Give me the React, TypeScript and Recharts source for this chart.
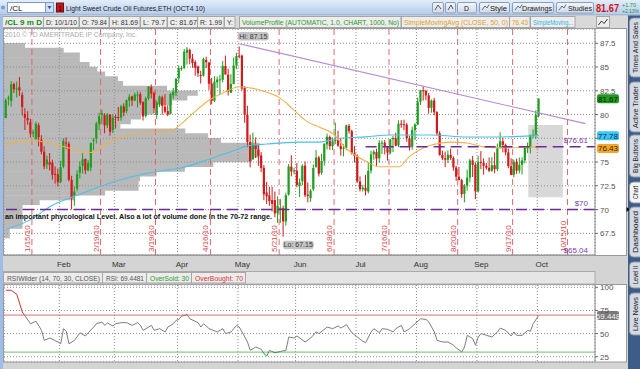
import React from "react";
import {
  ComposedChart,
  Bar,
  Line,
  XAxis,
  YAxis,
  CartesianGrid,
  ReferenceLine,
  ReferenceArea,
  ReferenceDot,
} from "recharts";

const FONT = "'Liberation Sans', Arial, Helvetica, sans-serif";

// ---------------- DATA (daily OHLC, one row per weekday from 1/4/10) ----------------
const jan = [
  [79.63, 81.68, 79.63, 81.51], [81.77, 82.0, 80.95, 81.77], [81.43, 83.52, 80.85, 83.18], [83.2, 83.36, 82.26, 82.66], [82.65, 83.47, 81.8, 82.75],
  [82.88, 83.95, 81.96, 82.52], [82.07, 82.34, 79.91, 80.79], [80.06, 80.67, 78.37, 79.65], [79.63, 80.36, 78.92, 79.39], [79.2, 79.56, 77.58, 78.0],
  [78.0, 78.4, 77.6, 78.2], [77.45, 79.25, 77.33, 79.02], [78.88, 79.13, 76.65, 77.62], [77.35, 77.82, 75.82, 76.08], [76.08, 76.67, 74.25, 74.54],
  [74.75, 75.67, 74.28, 75.26], [75.02, 75.95, 74.12, 74.71], [74.95, 75.25, 73.15, 73.67], [73.75, 74.54, 72.73, 73.64], [73.72, 74.32, 72.43, 72.89],
];
const feb = [
  [72.89, 75.13, 72.78, 74.43], [74.53, 77.51, 74.35, 77.23], [77.05, 77.59, 76.36, 76.98], [76.93, 77.15, 72.98, 73.14], [73.12, 73.55, 70.0, 71.19],
  [71.46, 72.43, 70.4, 71.89], [72.2, 74.13, 71.92, 73.75], [73.86, 75.08, 73.26, 74.52], [74.61, 75.95, 73.78, 75.28], [75.35, 75.35, 73.73, 74.13],
  [74.13, 75.2, 74.0, 74.9], [74.43, 77.05, 74.03, 77.01], [77.22, 77.55, 76.27, 77.33], [77.49, 79.24, 76.95, 79.06], [79.02, 80.18, 78.36, 79.81],
  [79.97, 80.51, 79.02, 80.16], [79.94, 80.14, 78.02, 78.86], [78.86, 80.15, 78.58, 80.0], [80.0, 80.02, 77.78, 78.17], [78.37, 80.03, 78.04, 79.66],
];
const mar = [
  [79.74, 80.0, 78.54, 79.7], [79.73, 80.79, 79.33, 79.68], [79.68, 81.02, 79.35, 80.87], [80.85, 81.18, 79.82, 80.21], [80.36, 81.59, 80.14, 81.5],
  [81.46, 82.14, 80.81, 81.87], [81.91, 82.0, 80.9, 81.49], [81.47, 82.31, 81.42, 82.09], [82.0, 82.43, 80.75, 82.11], [82.14, 82.39, 81.03, 81.24],
  [81.3, 81.39, 79.37, 79.8], [79.85, 81.88, 79.69, 81.7], [81.7, 83.0, 81.5, 82.93], [82.88, 83.16, 81.7, 82.2], [82.26, 82.43, 80.16, 80.68],
  [79.96, 81.47, 79.53, 81.25], [81.11, 82.0, 80.79, 81.91], [81.8, 82.0, 80.0, 80.91], [80.82, 82.15, 80.1, 80.3], [80.36, 80.98, 79.81, 80.0],
  [80.07, 82.23, 80.02, 82.17], [82.04, 82.8, 81.66, 82.37], [82.35, 83.85, 81.95, 83.76],
];
const apr = [
  [83.82, 85.14, 83.29, 84.87], [84.87, 85.1, 84.6, 84.9],
  [84.9, 86.9, 84.77, 86.62], [86.5, 87.09, 85.25, 86.84], [86.8, 86.93, 85.28, 85.88], [85.89, 86.37, 84.92, 85.42], [85.53, 85.71, 84.08, 84.92],
  [85.04, 85.17, 83.96, 84.34], [84.16, 84.61, 83.26, 84.05], [84.1, 86.0, 84.0, 85.84], [85.74, 86.08, 84.89, 85.51], [85.47, 85.5, 82.61, 83.24],
  [83.24, 83.87, 81.07, 81.45], [81.45, 84.04, 81.3, 83.45], [83.4, 84.0, 82.8, 83.68], [83.7, 84.18, 82.09, 83.7], [83.65, 85.64, 83.38, 85.12],
  [85.12, 86.2, 84.5, 84.2], [84.2, 84.82, 82.0, 82.44], [82.3, 84.24, 82.25, 83.22], [83.22, 86.0, 83.18, 85.17], [85.18, 86.5, 84.78, 86.15],
];
const may = [
  [86.2, 87.15, 85.9, 86.19], [86.2, 86.3, 82.53, 82.74], [82.8, 82.98, 79.13, 79.97], [80.0, 80.92, 76.56, 77.11], [77.11, 77.88, 74.44, 75.11],
  [75.3, 78.1, 75.21, 76.8], [76.8, 77.58, 75.42, 76.37], [76.3, 76.9, 74.6, 75.65], [75.7, 76.05, 73.95, 74.38], [74.4, 74.69, 70.98, 71.61],
  [71.8, 72.9, 70.6, 71.4], [71.5, 72.4, 70.4, 70.9], [71.0, 72.4, 69.8, 70.6], [71.0, 71.9, 69.2, 69.6], [69.6, 71.4, 68.6, 70.4],
  [70.04, 71.1, 68.6, 70.21], [70.15, 70.4, 67.15, 68.75], [68.75, 71.78, 68.32, 71.51], [71.58, 74.8, 71.46, 74.55], [74.52, 75.72, 73.5, 74.0],
  [74.0, 74.4, 73.7, 74.1],
];
const jun = [
  [74.1, 74.89, 72.35, 72.58], [72.5, 73.28, 71.32, 72.86], [72.98, 74.76, 72.56, 74.61], [74.62, 75.06, 71.33, 71.51],
  [71.56, 72.85, 70.76, 71.44], [71.2, 72.16, 70.81, 71.99], [72.13, 74.75, 71.94, 74.38], [74.5, 76.26, 74.39, 75.48], [75.48, 75.66, 73.48, 73.78],
  [73.88, 75.85, 73.66, 75.12], [75.12, 76.96, 74.63, 76.94], [76.86, 77.99, 76.33, 77.67], [77.65, 77.79, 76.28, 76.67], [76.67, 77.6, 76.26, 77.18],
  [77.2, 79.14, 76.89, 77.31], [77.3, 78.3, 76.6, 76.73], [76.7, 77.46, 75.66, 76.35], [76.4, 76.87, 75.6, 76.51], [76.5, 78.94, 76.25, 78.86],
  [78.8, 79.0, 78.0, 78.26], [78.25, 78.42, 75.78, 75.94], [75.94, 76.67, 74.95, 75.63],
];
const jul = [
  [75.6, 75.82, 72.83, 72.95], [72.95, 73.5, 71.9, 72.14],
  [72.14, 72.6, 71.9, 72.3], [72.3, 73.65, 71.5, 71.98], [71.9, 75.0, 71.7, 74.07], [74.1, 76.2, 73.8, 75.81], [75.81, 76.28, 75.24, 76.09],
  [76.05, 76.4, 74.6, 75.36], [75.4, 77.3, 74.93, 77.01], [77.0, 77.28, 75.85, 77.04], [77.04, 77.31, 75.8, 76.62], [76.6, 76.7, 75.15, 76.01],
  [75.98, 77.4, 75.82, 77.38], [77.4, 77.73, 76.05, 77.54], [77.5, 78.09, 76.66, 76.72], [76.75, 79.4, 76.58, 79.04], [79.04, 79.42, 78.6, 78.98],
  [78.98, 79.45, 78.35, 78.94], [78.94, 79.1, 77.13, 77.5], [77.5, 77.76, 76.21, 76.61], [76.61, 78.73, 76.3, 78.36], [78.36, 79.09, 77.31, 78.95],
];
const aug = [
  [78.95, 81.77, 78.88, 81.34], [81.34, 82.6, 81.0, 82.55], [82.55, 82.97, 81.46, 82.49], [82.49, 82.6, 81.51, 82.01], [82.01, 82.27, 80.1, 80.7],
  [80.7, 81.58, 80.19, 81.48], [81.48, 81.75, 79.91, 80.25], [80.25, 80.36, 77.8, 78.02], [78.02, 78.25, 75.66, 75.74], [75.74, 76.2, 75.2, 75.39],
  [75.39, 76.09, 74.47, 75.24], [75.24, 76.24, 74.89, 75.77], [75.77, 76.41, 75.2, 75.42], [75.42, 75.59, 74.09, 74.43], [74.43, 74.6, 73.03, 73.46],
  [73.46, 74.49, 73.09, 73.1], [73.1, 73.23, 71.25, 71.63], [71.63, 72.68, 70.76, 72.52], [72.52, 74.2, 72.0, 73.36], [73.36, 75.34, 72.87, 75.17],
  [75.17, 75.65, 73.42, 74.7], [74.7, 74.95, 71.1, 71.92],
];
const sep = [
  [71.92, 75.65, 71.79, 75.02], [75.02, 76.15, 74.26, 74.91], [74.91, 75.39, 73.68, 74.6],
  [74.6, 74.9, 74.2, 74.4], [74.4, 75.49, 73.93, 74.09], [74.09, 75.5, 73.95, 74.67], [74.67, 76.0, 73.81, 74.25], [74.25, 76.95, 74.05, 76.45],
  [76.45, 78.13, 76.45, 77.19], [77.19, 77.56, 76.01, 76.8], [76.8, 76.94, 75.7, 76.02], [76.02, 76.42, 74.35, 74.57], [74.57, 75.41, 73.61, 73.66],
  [73.66, 75.25, 73.38, 75.02], [75.02, 75.36, 73.76, 74.1], [74.1, 75.48, 73.8, 74.71], [74.71, 75.49, 73.7, 75.18], [75.18, 76.65, 74.87, 76.49],
  [76.49, 77.05, 75.95, 76.53], [76.53, 77.88, 75.91, 77.86], [77.86, 78.45, 77.5, 77.86], [77.86, 80.45, 77.46, 79.97],
];
const oct = [[79.84, 81.69, 79.7, 81.67]];

// moving averages & RSI, read at sampled sessions: [weekday index, value]
const sma50Points = [
  [0, 76.8], [5, 77.25], [10, 77.3], [16, 76.97], [22, 76.55], [27, 76.2], [31, 76.0], [34, 76.45], [39, 77.3], [46, 77.9],
  [54, 78.16], [60, 78.2], [63, 78.8], [68, 80.1], [74, 81.5], [80, 82.4], [85, 82.93], [90, 82.75], [95, 82.35], [100, 81.7],
  [104, 80.7], [107, 79.9], [110, 79.2], [114, 78.7], [119, 78.0], [124, 76.4], [131, 75.1], [136, 74.5], [143, 74.5], [147, 75.6],
  [155, 76.8], [162, 77.1], [168, 77.0], [174, 76.6], [180, 76.5], [186, 76.5], [192, 76.6], [194, 76.43],
];
const sma200Points = [
  [0, 67.9], [10, 69.1], [16, 70.3], [26, 71.5], [38, 72.8], [52, 73.85], [60, 74.2], [64, 74.4], [74, 75.3], [83, 76.2],
  [88, 76.7], [95, 76.9], [107, 77.1], [114, 77.1], [122, 77.5], [131, 77.65], [140, 77.85], [155, 77.85], [168, 77.64], [180, 77.64],
  [192, 77.75], [194, 77.78],
];
const rsiPoints = [
  [0, 96.8], [2, 96.8], [4, 92.4], [6, 73.3], [9, 60.7], [11, 63.3], [13, 53.5], [14, 42.7], [16, 45.2], [19, 40.9],
  [20, 39], [21, 55.3], [22, 52.5], [23, 39], [25, 42.7], [27, 50.9], [29, 47.4], [30, 50.9], [32, 57.1], [33, 60.7],
  [35, 62.5], [36, 58.9], [37, 61.4], [39, 58.2], [40, 60.7], [42, 61.8], [44, 61.8], [46, 58.9], [48, 61.8], [49, 58.9],
  [50, 53.5], [52, 57.1], [53, 58.9], [54, 53.5], [56, 55.3], [58, 51.8], [59, 57.1], [61, 60.7], [62, 64.3], [63, 65.3],
  [64, 68.9], [66, 70.3], [67, 66], [70, 61.8], [71, 57.1], [72, 60.7], [74, 55.3], [77, 51.8], [79, 55.3], [80, 50],
  [82, 51.8], [84, 58.9], [85, 57.1], [88, 40.9], [89, 31.9], [91, 35.5], [93, 33], [94, 28.3], [95, 25.8], [96, 31.9],
  [98, 29.3], [100, 30.7], [102, 31.9], [103, 46.3], [105, 45.2], [106, 47.4], [109, 40.9], [111, 45.2], [113, 51.8], [114, 50],
  [117, 57.1], [119, 55.3], [121, 58.2], [122, 56], [124, 59.6], [126, 50.9], [128, 46.3], [130, 41.6], [131, 40.2], [133, 51.8],
  [134, 55.3], [136, 50.9], [137, 55.3], [139, 54.6], [141, 51.8], [142, 55.3], [144, 58.9], [145, 51.8], [147, 55.3], [149, 60.7],
  [151, 66], [153, 65.3], [154, 62.5], [156, 51.8], [157, 42.7], [159, 40.9], [161, 40.9], [163, 37.4], [164, 34.5], [166, 30.2],
  [167, 35.5], [168, 48.1], [170, 44.5], [171, 37.4], [172, 46.3], [173, 50], [175, 48.1], [177, 46.3], [179, 51.8], [180, 56],
  [182, 53.5], [184, 47.4], [185, 51.8], [186, 48.1], [188, 48.1], [190, 53.5], [191, 52.5], [192, 60.7], [194, 69.448],
];

// volume profile: lower edge of each 0.5 price row and its relative volume (0-100)
const PROFILE_STEP = 0.5;
const profileLow = [
  87.0, 86.5, 86.0, 85.5, 85.0, 84.5, 84.0, 83.5, 83.0, 82.5, 82.0, 81.5, 81.0, 80.5, 80.0, 79.5, 79.0, 78.5, 78.0, 77.5,
  77.0, 76.5, 76.0, 75.5, 75.0, 74.5, 74.0, 73.5, 73.0, 72.5, 72.0, 71.5, 71.0, 70.5, 70.0, 69.5, 69.0, 68.5, 68.0, 67.5, 67.0,
];
const profileVolume = [
  6.9, 19.6, 24.9, 24.9, 28.1, 30.6, 33.2, 37.4, 39.1, 53.5, 63.6, 60.2, 55.2, 50.1, 49.2, 45.0, 41.6, 38.2, 59.5, 67.0,
  71.2, 83.9, 83.9, 83.9, 81.4, 68.7, 59.4, 50.1, 44.7, 44.2, 44.2, 33.2, 23.0, 11.7, 6.1, 6.1, 6.1, 6.1, 6.1, 1.9, 1.9,
];
const forwardBox = { from: 190.2, to: 202.8, low: 71.3, high: 78.9 };

const monthLabels = ["Feb", "Mar", "Apr", "May", "Jun", "Jul", "Aug", "Sep", "Oct"];
const monthStarts = ["2/1/10", "3/1/10", "4/1/10", "5/3/10", "6/1/10", "7/1/10", "8/2/10", "9/1/10", "10/1/10"];
const expirations = ["1/15/10", "2/19/10", "3/19/10", "4/16/10", "5/21/10", "6/18/10", "7/16/10", "8/20/10", "9/17/10", "10/15/10"];
const priceTicks = [67.5, 70, 72.5, 75, 77.5, 80, 82.5, 85, 87.5];
const rsiTicks = [25, 50, 75, 100];

const trendline = [["5/3/10", 87.45], ["10/26/10", 79.04]];
const supportLevel = 70;
const pivotLevel = { price: 76.61, from: "7/6/10" };
const bottomLevel = 65.04;
const highMark = { date: "5/3/10", price: 87.15 };
const lowMark = { date: "5/25/10", price: 67.15 };
const lastClose = 81.67;
const lastSma50 = 76.43;
const lastSma200 = 77.78;
const lastRsi = 69.448;

// ---------------- helpers ----------------
const dayIndex = (s: string) => {
  const [m, d] = s.split("/").map(Number);
  const days = Math.round((Date.UTC(2010, m - 1, d) - Date.UTC(2010, 0, 4)) / 864e5);
  return Math.floor(days / 7) * 5 + (days % 7);
};

const X_DOMAIN: [number, number] = [-0.66, 214.5];
const PRICE_DOMAIN: [number, number] = [65.22, 89.0];
const RSI_DOMAIN: [number, number] = [19.3, 102.5];

const candles = [jan, feb, mar, apr, may, jun, jul, aug, sep, oct].flat();
const rows: any[] = candles.map(([o, h, l, c], i) => ({ i, o, h, l, c, range: [l, h] }));
sma50Points.forEach(([i, v]) => (rows[i].sma50 = v));
sma200Points.forEach(([i, v]) => (rows[i].sma200 = v));
rsiPoints.forEach(([i, v]) => (rows[i].rsi = v));

const monthTicks = monthStarts.map((d) => dayIndex(d) - 0.5);
const monthByTick: Record<string, string> = {};
monthTicks.forEach((t, k) => (monthByTick[String(t)] = monthLabels[k]));

// ---------------- marks ----------------
const Candle = (props: any) => {
  const { x, y, width, height, payload } = props;
  if (!payload || payload.o == null || !isFinite(y)) return null;
  const { o, h, l, c } = payload;
  const top = Math.min(y, y + height);
  const bot = Math.max(y, y + height);
  const k = (bot - top) / (h - l || 1);
  const yO = top + (h - o) * k;
  const yC = top + (h - c) * k;
  const cx = x + width / 2;
  const col = c >= o ? "#1f9d1f" : "#d11a1a";
  const bt = Math.min(yO, yC);
  const bh = Math.max(1, Math.abs(yC - yO));
  return (
    <g>
      <line x1={cx} x2={cx} y1={top} y2={bot} stroke={col} strokeWidth={1} />
      <rect x={cx - 1.1} y={bt} width={2.2} height={bh} fill={col} />
    </g>
  );
};

const PriceTick = (p: any) => {
  const v = p.payload.value;
  if (v === 77.5) return <g />;
  return (
    <text x={p.x} y={p.y + 3} fontSize={8} fill="#555" fontFamily={FONT}>
      {String(v)}
    </text>
  );
};
const RsiTick = (p: any) => (
  <text x={p.x} y={p.y + 3} fontSize={8} fill="#555" fontFamily={FONT}>
    {String(p.payload.value)}
  </text>
);
const MonthTick = (p: any) => (
  <text x={p.x + 4.5} y={p.y + 9.5} fontSize={8} fill="#333" textAnchor="middle" fontFamily={FONT}>
    {monthByTick[String(p.payload.value)] || ""}
  </text>
);

const levelLabel = (text: string, note?: string) => (props: any) => {
  const vb = props.viewBox || {};
  return (
    <g fontFamily={FONT}>
      <text x={vb.x + vb.width - 7} y={vb.y - 3.5} fontSize={8} fill="#7b3ea8" textAnchor="end">
        {text}
      </text>
      {note ? (
        <text x={vb.x + 1} y={vb.y + 9.5} fontSize={8} fontWeight="bold" fill="#111" textLength={267} lengthAdjust="spacingAndGlyphs">
          {note}
        </text>
      ) : null}
    </g>
  );
};

const expLabel = (text: string) => (props: any) => {
  const vb = props.viewBox || {};
  const x = vb.x - 2;
  const y = vb.y + vb.height - 3;
  return (
    <text transform={`translate(${x},${y}) rotate(-90)`} fontSize={8} fill="#d94a4a" fontFamily={FONT}>
      {text}
    </text>
  );
};

const badge = (text: string, fill: string, color: string) => (props: any) => {
  const vb = props.viewBox || {};
  const x = vb.x + vb.width + 2;
  return (
    <g fontFamily={FONT}>
      <rect x={x} y={vb.y - 4.5} width={22} height={9} rx={2} fill={fill} />
      <text x={x + 11} y={vb.y + 3} textAnchor="middle" fontSize={8} fill={color}>
        {text}
      </text>
    </g>
  );
};

const tag = (text: string, dx: number, dy: number) => (p: any) => (
  <g fontFamily={FONT}>
    <rect x={p.cx + dx} y={p.cy + dy} width={31} height={8.5} rx={3} fill="#c3c3c3" />
    <text x={p.cx + dx + 15.5} y={p.cy + dy + 6.8} textAnchor="middle" fontSize={7} fill="#3a3a3a">
      {text}
    </text>
  </g>
);

// ---------------- charts ----------------
const ProfileChart = () => (
  <ComposedChart width={640} height={270} data={rows} margin={{ top: 29, right: 45, bottom: 15, left: 4 }}>
    <XAxis xAxisId="idx" dataKey="i" type="number" domain={X_DOMAIN} allowDataOverflow hide />
    <XAxis xAxisId="vp" type="number" domain={[0, 100]} allowDataOverflow hide />
    <YAxis type="number" domain={PRICE_DOMAIN} allowDataOverflow hide />
    {profileLow.map((lo, k) => (
      <ReferenceArea
        key={k}
        xAxisId="vp"
        x1={0}
        x2={profileVolume[k]}
        y1={lo - 0.02}
        y2={lo + PROFILE_STEP + 0.02}
        fill="#b9b9b9"
        fillOpacity={1}
        stroke="none"
        ifOverflow="visible"
      />
    ))}
    <ReferenceArea
      xAxisId="idx"
      x1={forwardBox.from}
      x2={forwardBox.to}
      y1={forwardBox.low}
      y2={forwardBox.high}
      fill="#d8d8d8"
      fillOpacity={1}
      stroke="none"
    />
  </ComposedChart>
);

const PriceChart = () => (
  <ComposedChart width={640} height={270} data={rows} margin={{ top: 29, right: 13, bottom: 0, left: 4 }}>
    <CartesianGrid stroke="#8f8f8f" strokeDasharray="1 2" />
    <XAxis
      dataKey="i"
      type="number"
      domain={X_DOMAIN}
      allowDataOverflow
      ticks={monthTicks}
      interval={0}
      height={15}
      tickLine={false}
      tickSize={0}
      axisLine={{ stroke: "#8a8a8a" }}
      tick={<MonthTick />}
    />
    <YAxis
      orientation="right"
      type="number"
      domain={PRICE_DOMAIN}
      allowDataOverflow
      ticks={priceTicks}
      interval={0}
      width={32}
      tickSize={3}
      tickLine={{ stroke: "#666" }}
      axisLine={{ stroke: "#8a8a8a" }}
      tick={<PriceTick />}
    />
    {expirations.map((d) => (
      <ReferenceLine key={d} x={dayIndex(d) + 0.5} stroke="#e06a6a" strokeDasharray="6 4" label={expLabel(d)} />
    ))}
    <Bar dataKey="range" barSize={3} shape={(p: any) => <Candle {...p} />} isAnimationActive={false} />
    <Line dataKey="sma200" stroke="#4cc0e8" strokeWidth={1.1} dot={false} connectNulls type="monotone" isAnimationActive={false} />
    <Line dataKey="sma50" stroke="#f0b04a" strokeWidth={1.1} dot={false} connectNulls type="monotone" isAnimationActive={false} />
    <ReferenceLine
      segment={[
        { x: dayIndex(trendline[0][0] as string), y: trendline[0][1] as number },
        { x: dayIndex(trendline[1][0] as string), y: trendline[1][1] as number },
      ]}
      stroke="#b48ad2"
      strokeWidth={1.1}
      ifOverflow="visible"
    />
    <ReferenceLine
      y={supportLevel}
      stroke="#6b2a96"
      strokeWidth={1.6}
      strokeDasharray="11 6"
      label={levelLabel("$70", "an important phycological Level. Also a lot of volume done in the 70-72 range.")}
    />
    <ReferenceLine
      segment={[
        { x: dayIndex(pivotLevel.from), y: pivotLevel.price },
        { x: X_DOMAIN[1], y: pivotLevel.price },
      ]}
      stroke="#6b2a96"
      strokeWidth={1.6}
      strokeDasharray="11 6"
      label={levelLabel("$76.61")}
    />
    <ReferenceLine y={bottomLevel} stroke="none" ifOverflow="visible" label={levelLabel("$65.04")} />
    <ReferenceDot x={dayIndex(highMark.date)} y={highMark.price} r={0} shape={tag("Hi: 87.15", -1.5, -14.5)} />
    <ReferenceDot x={dayIndex(lowMark.date)} y={lowMark.price} r={0} shape={tag("Lo: 67.15", -0.5, 4)} />
    <ReferenceLine y={lastClose} stroke="none" label={badge("81.67", "#1f9a1f", "#062806")} />
    <ReferenceLine y={lastSma200} stroke="none" label={badge("77.78", "#3cc4f2", "#0b2a55")} />
    <ReferenceLine y={lastSma50} stroke="none" label={badge("76.43", "#f4a52a", "#3a2500")} />
  </ComposedChart>
);

const RSI_TOP = 9;
const RSI_H = 77;
const off = (v: number) => (RSI_DOMAIN[1] - v) / (RSI_DOMAIN[1] - RSI_DOMAIN[0]);

const RsiChart = () => (
  <ComposedChart width={640} height={90} data={rows} margin={{ top: RSI_TOP, right: 13, bottom: 4, left: 4 }}>
    <defs>
      <linearGradient id="rsiGrad" gradientUnits="userSpaceOnUse" x1="0" y1={RSI_TOP} x2="0" y2={RSI_TOP + RSI_H}>
        <stop offset={0} stopColor="#d83030" />
        <stop offset={off(70)} stopColor="#d83030" />
        <stop offset={off(70)} stopColor="#7c7c7c" />
        <stop offset={off(30)} stopColor="#7c7c7c" />
        <stop offset={off(30)} stopColor="#2c9a2c" />
        <stop offset={1} stopColor="#2c9a2c" />
      </linearGradient>
    </defs>
    <CartesianGrid stroke="#8f8f8f" strokeDasharray="1 2" />
    <XAxis dataKey="i" type="number" domain={X_DOMAIN} allowDataOverflow ticks={monthTicks} interval={0} hide />
    <YAxis
      orientation="right"
      type="number"
      domain={RSI_DOMAIN}
      allowDataOverflow
      ticks={rsiTicks}
      interval={0}
      width={32}
      tickSize={3}
      tickLine={{ stroke: "#666" }}
      axisLine={{ stroke: "#8a8a8a" }}
      tick={<RsiTick />}
    />
    <ReferenceLine y={70} stroke="#e07070" strokeWidth={1} />
    <ReferenceLine y={30} stroke="#70bf70" strokeWidth={1} />
    <Line dataKey="rsi" stroke="url(#rsiGrad)" strokeWidth={1} dot={false} connectNulls isAnimationActive={false} />
    <ReferenceLine y={lastRsi} stroke="none" label={badge("69.448", "#7a7a7a", "#f2f2f2")} />
  </ComposedChart>
);

// ---------------- window chrome ----------------
const Backdrop = () => (
  <svg width={640} height={369} style={{ position: "absolute", left: 0, top: 0 }}>
    <rect x={0} y={0} width={640} height={369} fill="#d4d4d4" />
    <rect x={4} y={29} width={591} height={226} fill="#ffffff" />
    <rect x={595} y={29} width={32} height={226} fill="#ffffff" />
    <rect x={4} y={284.5} width={591} height={77.5} fill="#ffffff" />
    <rect x={595} y={284.5} width={32} height={77.5} fill="#ffffff" />
  </svg>
);

const infoCells: [number, number, string, string, boolean?][] = [
  [5, 37, "/CL 9 m D", "#178a17", true],
  [46, 31, "D: 10/1/10", "#333"],
  [82, 25, "O: 79.84", "#333"],
  [112, 26, "H: 81.69", "#333"],
  [143, 22, "L: 79.7", "#333"],
  [170, 27, "C: 81.67", "#333"],
  [200, 22, "R: 1.99", "#333"],
  [227, 6, "Y:", "#333"],
  [242, 157, "VolumeProfile (AUTOMATIC, 1.0, CHART, 1000, No)", "#2b9a2b"],
  [404, 104, "SimpleMovingAvg (CLOSE, 50, 0)", "#e39f1a"],
  [512, 16, "76.43", "#e39f1a"],
  [533, 40, "SimpleMoving...", "#2fb2e6"],
];
const rsiCells: [number, number, string, string][] = [
  [7, 93, "RSIWilder (14, 70, 30, CLOSE)", "#555"],
  [106, 38, "RSI: 69.4481", "#555"],
  [150, 39, "OverSold: 30", "#2b9a2b"],
  [195, 48, "OverBought: 70", "#d33"],
];
const tabs: [number, number, string, boolean?][] = [
  [18, 77, "Times And Sales"],
  [82, 132, "Active Trader"],
  [135, 177, "Big Buttons"],
  [182, 203, "Chart", true],
  [207, 257, "Dashboard"],
  [262, 288, "Level II"],
  [293, 335, "Live News"],
];
const buttons: [number, number, string, number, number][] = [
  [432, 444, "", 0, 0],
  [445, 456, "", 0, 0],
  [457, 477, "D", 464, 5],
  [479, 510, "Style", 490, 17],
  [512, 554, "Drawings", 522, 30],
  [556, 594, "Studies", 568, 24],
];

const Chrome = () => (
  <svg width={640} height={369} style={{ position: "absolute", left: 0, top: 0, pointerEvents: "none" }} fontFamily={FONT}>
    <defs>
      <linearGradient id="tbg" x1="0" y1="0" x2="0" y2="1">
        <stop offset="0" stopColor="#e3eefb" />
        <stop offset="1" stopColor="#b2caea" />
      </linearGradient>
      <linearGradient id="btn" x1="0" y1="0" x2="0" y2="1">
        <stop offset="0" stopColor="#f4f7fb" />
        <stop offset="1" stopColor="#cfd9e6" />
      </linearGradient>
    </defs>
    {/* toolbar */}
    <rect x={0} y={0} width={640} height={15} fill="url(#tbg)" />
    <line x1={0} x2={640} y1={15} y2={15} stroke="#8fa8c8" />
    <circle cx={3} cy={7.5} r={2} fill="#7d9bc9" />
    <rect x={7.5} y={2.5} width={38} height={10} fill="#fff" stroke="#7f9cc8" />
    <text x={10} y={11} fontSize={8} fill="#111">/CL</text>
    <rect x={45.5} y={2.5} width={8} height={10} fill="#d3e0f3" stroke="#7f9cc8" />
    <path d="M47.3 6 L51.7 6 L49.5 9.2 Z" fill="#3565a8" />
    <rect x={56.5} y={3} width={7} height={9} fill="#c41818" stroke="#7a0a0a" />
    <text x={60} y={10.5} fontSize={7} textAnchor="middle" fill="#2a0000">1</text>
    <text x={66} y={11} fontSize={8} fill="#222" textLength={139} lengthAdjust="spacingAndGlyphs">
      Light Sweet Crude Oil Futures,ETH (OCT4 10)
    </text>
    {buttons.map(([a, b, t, tx, tw], k) => (
      <g key={k}>
        <rect x={a + 0.5} y={2.5} width={b - a - 1} height={10.5} rx={1.5} fill="url(#btn)" stroke="#8a9fbd" />
        {t ? (
          <text x={tx} y={10.8} fontSize={7.5} fill="#222" textLength={tw} lengthAdjust="spacingAndGlyphs">
            {t}
          </text>
        ) : (
          <path d={`M${a + 3} ${10} L${a + 6} ${5} L${b - 3} ${9}`} stroke="#555" fill="none" />
        )}
        {t && t.length > 1 ? <path d={`M${a + 3} 10 L${a + 6} 6 L${a + 8} 8 L${a + 10} 4.5`} stroke="#5a6f8c" fill="none" /> : null}
      </g>
    ))}
    <text x={596} y={12} fontSize={10} fontWeight="bold" fill="#d21212" textLength={23} lengthAdjust="spacingAndGlyphs">81.67</text>
    <text x={622} y={6.5} fontSize={5} fill="#1f8f3f" textLength={14} lengthAdjust="spacingAndGlyphs">+1.70</text>
    <text x={622} y={13} fontSize={5} fill="#1f8f3f" textLength={17} lengthAdjust="spacingAndGlyphs">+2.13%</text>

    {/* info row */}
    <rect x={0} y={15.5} width={628} height={13.5} fill="#d9d9d9" />
    {infoCells.map(([x, w, t, col, bold], k) => (
      <g key={k}>
        <rect x={x - 2.5} y={16.5} width={w + 4.5} height={11} fill="#ededed" stroke="#a6a6a6" />
        <text x={x} y={25} fontSize={7.2} fill={col} fontWeight={bold ? "bold" : "normal"} textLength={w} lengthAdjust="spacingAndGlyphs">
          {t}
        </text>
      </g>
    ))}
    <rect x={596.5} y={16.5} width={13} height={11} fill="#ededed" stroke="#a6a6a6" />
    <path d="M598.5 25 L601.5 21 L604 23.5 L607.5 19" stroke="#333" fill="none" />

    {/* copyright */}
    <text x={5} y={37} fontSize={7} fill="#ababab" textLength={132} lengthAdjust="spacingAndGlyphs">
      2010 © TD AMERITRADE IP Company, Inc.
    </text>

    {/* plot borders */}
    <rect x={3.5} y={28.5} width={623} height={227} fill="none" stroke="#9a9a9a" />
    <rect x={3.5} y={284.5} width={623} height={77.5} fill="none" stroke="#9a9a9a" />

    {/* RSI header */}
    <rect x={3} y={271.5} width={592} height={12.5} fill="#e5e5e5" stroke="#aaaaaa" />
    {rsiCells.map(([x, w, t, col], k) => (
      <g key={k}>
        <rect x={x - 3.5} y={272.5} width={w + 6} height={10.5} fill="#ececec" stroke="#a6a6a6" />
        <text x={x} y={280.5} fontSize={7} fill={col} textLength={w} lengthAdjust="spacingAndGlyphs">
          {t}
        </text>
      </g>
    ))}

    {/* left border and right side panel */}
    <rect x={0} y={15.5} width={3} height={353.5} fill="#9fbde6" />
    <rect x={628} y={15.5} width={12} height={353.5} fill="#3d5d88" />
    <path d="M626.5 207 L630 209.5 L626.5 212 Z" fill="#111" />
    {tabs.map(([a, b, t, sel], k) => (
      <g key={k}>
        <rect x={629.5} y={a} width={14} height={b - a} rx={4} fill={sel ? "#f4f4f4" : "#d5dae2"} stroke="#8b97a8" />
        <text
          transform={`translate(${637.5},${(a + b) / 2}) rotate(-90)`}
          fontSize={7}
          fill="#222"
          textAnchor="middle"
          textLength={b - a - 8}
          lengthAdjust="spacingAndGlyphs"
        >
          {t}
        </text>
      </g>
    ))}
  </svg>
);

export default function App() {
  return (
    <div style={{ position: "absolute", left: 0, top: 0, width: 640, height: 369, overflow: "hidden", fontFamily: FONT }}>
      <Backdrop />
      <div style={{ position: "absolute", left: 0, top: 0 }}>
        <ProfileChart />
      </div>
      <div style={{ position: "absolute", left: 0, top: 0 }}>
        <PriceChart />
      </div>
      <div style={{ position: "absolute", left: 0, top: 276 }}>
        <RsiChart />
      </div>
      <Chrome />
    </div>
  );
}
